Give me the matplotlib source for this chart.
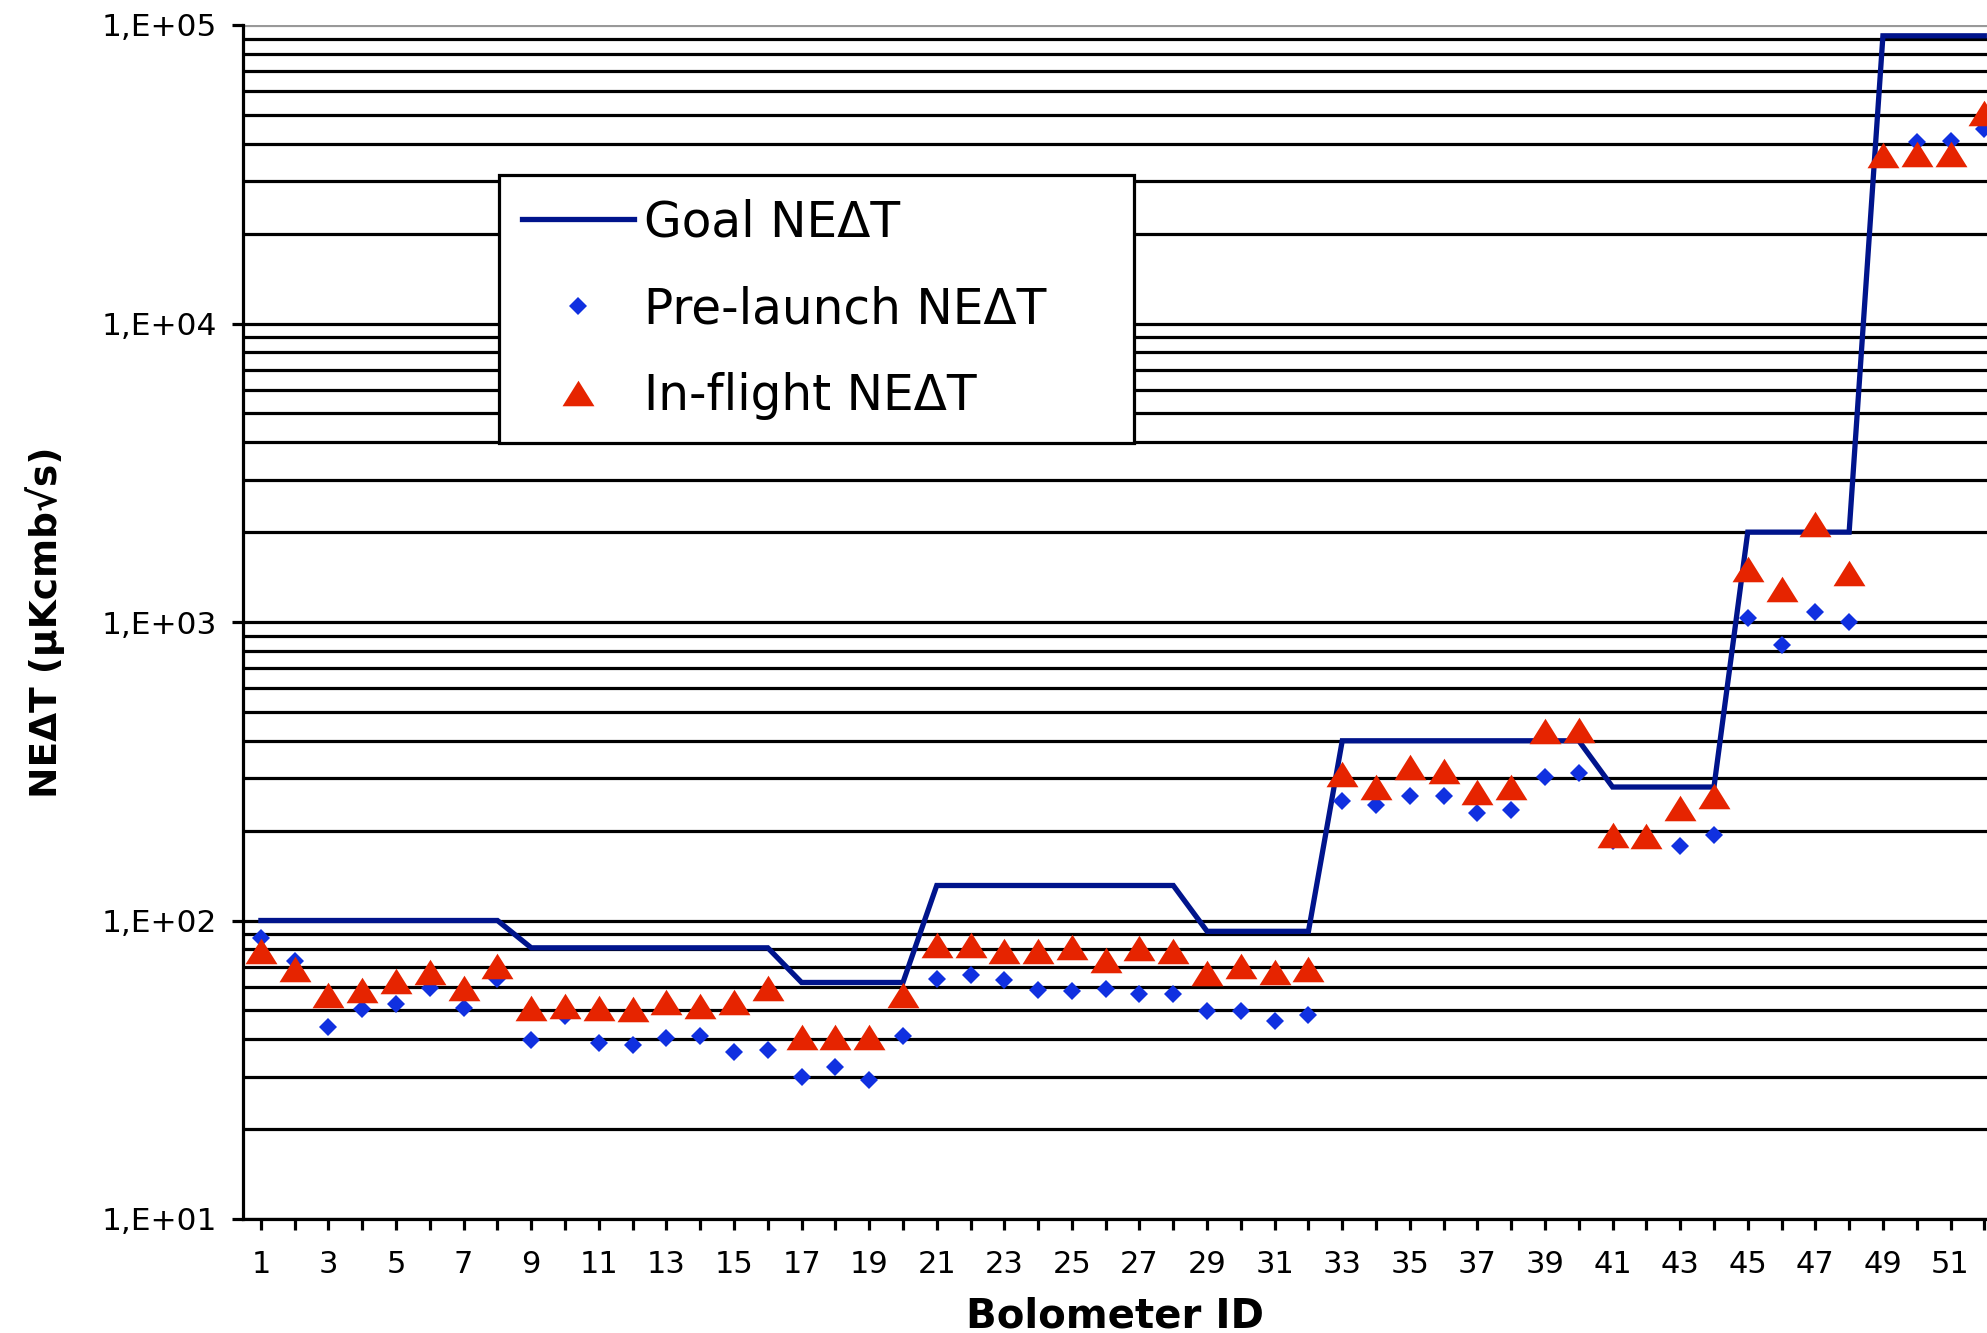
import matplotlib
matplotlib.use("Agg")
import matplotlib.pyplot as plt
from matplotlib.ticker import FixedLocator, FixedFormatter, LogLocator, NullFormatter

plt.rcParams['font.family'] = ['DejaVu Sans']

bolometer = list(range(1, 53))
goal_neat = [100, 100, 100, 100, 100, 100, 100, 100,
             81, 81, 81, 81, 81, 81, 81, 81,
             62, 62, 62, 62,
             131, 131, 131, 131, 131, 131, 131, 131,
             92, 92, 92, 92,
             400, 400, 400, 400, 400, 400, 400, 400,
             280, 280, 280, 280,
             2000, 2000, 2000, 2000,
             92000, 92000, 92000, 92000]
prelaunch_neat = [87.5, 73, 44, 50.5, 52.7, 59.5, 51, 63.6,
                  39.7, 48, 38.8, 38.3, 40.3, 40.9, 36.4, 36.9,
                  29.9, 32.4, 29.3, 40.9,
                  63.5, 65.6, 63, 58.5, 58, 58.9, 56.7, 56.9,
                  49.8, 49.8, 46.1, 48.2,
                  252, 244, 262, 262, 229, 234, 303, 313,
                  185, 186, 178, 194,
                  1029, 838, 1080, 1003,
                  36000, 40500, 41000, 45000]
inflight_neat = [79, 69, 56.2, 58.4, 62.7, 67.3, 59.5, 70.5,
                 51.1, 51.6, 51.1, 50.4, 53.4, 51.7, 53.4, 59.5,
                 40.7, 40.7, 40.7, 56.2,
                 82.5, 82.5, 79.3, 79.3, 81.4, 73.7, 81, 79,
                 66.9, 70.5, 67, 69,
                 309, 281, 327, 318, 269, 281, 431, 435,
                 194, 192, 238, 262,
                 1504, 1291, 2122, 1454,
                 36650, 37000, 37000, 50700]
ytick_values = [1e1, 1e2, 1e3, 1e4, 1e5]
ytick_labels = ["1,E+01", "1,E+02", "1,E+03", "1,E+04", "1,E+05"]
xtick_labels = [str(b) if b % 2 == 1 else "" for b in bolometer]

W, H = 1987, 1333
fig = plt.figure(figsize=(W / 100, H / 100), dpi=100)
ax = fig.add_axes([243 / W, (H - 1219) / H, (W - 243) / W, (1219 - 25) / H])

GOAL_C = '#00148C'
PRE_C = '#1030E0'
FLY_C = '#E62400'
tri = [(-1, -0.8), (1, -0.8), (0, 0.8)]

ax.plot(bolometer, goal_neat, color=GOAL_C, lw=3.8, label='Goal NE\u0394T', zorder=3,
        solid_joinstyle='miter')
ax.plot(bolometer, prelaunch_neat, ls='none', marker='D', ms=9.5, color=PRE_C,
        markeredgewidth=0, label='Pre-launch NE\u0394T', zorder=4)
ax.plot(bolometer, inflight_neat, ls='none', marker=tri, ms=23, color=FLY_C,
        markeredgewidth=0, label='In-flight NE\u0394T', zorder=5)

ax.set_yscale('log')
ax.set_ylim(10, 1e5)
ax.set_xlim(0.47, 52.08)

ax.yaxis.set_major_locator(FixedLocator(ytick_values))
ax.yaxis.set_major_formatter(FixedFormatter(ytick_labels))
ax.yaxis.set_minor_locator(LogLocator(base=10, subs=[2, 3, 4, 5, 6, 7, 8, 9]))
ax.yaxis.set_minor_formatter(NullFormatter())
ax.xaxis.set_major_locator(FixedLocator(bolometer))
ax.xaxis.set_major_formatter(FixedFormatter(xtick_labels))

ax.grid(True, axis='y', which='both', color='black', lw=2.3)
ax.set_axisbelow(True)
for t in ax.yaxis.get_major_ticks():
    t.gridline.set_color('black')
ax.yaxis.get_major_ticks()[-1].gridline.set_color('#999999')

for s in ['top', 'right']:
    ax.spines[s].set_visible(False)
for s in ['left', 'bottom']:
    ax.spines[s].set_linewidth(2.3)
    ax.spines[s].set_color('black')
    ax.spines[s].set_zorder(6)

ax.tick_params(axis='y', which='major', direction='out', length=8, width=2.3,
               labelsize=22.5, pad=11, colors='black')
ax.tick_params(axis='y', which='minor', length=0)
ax.tick_params(axis='x', which='major', direction='out', length=8, width=2.3,
               labelsize=22, pad=14, colors='black')

ax.set_xlabel('Bolometer ID', fontsize=29, fontweight='bold', va='center')
ax.xaxis.set_label_coords(0.5, -0.082)
ax.set_ylabel('NE\u0394T (\u00b5Kcmb\u221as)', fontsize=27, fontweight='bold', va='center')
ax.yaxis.set_label_coords(-0.1135, 0.5)

leg = ax.legend(loc='upper left',
                bbox_to_anchor=((499 - 243) / (W - 243), (1219 - 430) / 1194,
                                (1134 - 499) / (W - 243), (430 - 175) / 1194),
                mode='expand', borderaxespad=0, fontsize=35, frameon=True,
                fancybox=False, framealpha=1, edgecolor='black',
                borderpad=0.48, labelspacing=0.8, handlelength=2.3,
                handletextpad=0.2)
leg.get_frame().set_linewidth(2.3)
leg.set_zorder(10)

fig.savefig('out.png', dpi=100)
